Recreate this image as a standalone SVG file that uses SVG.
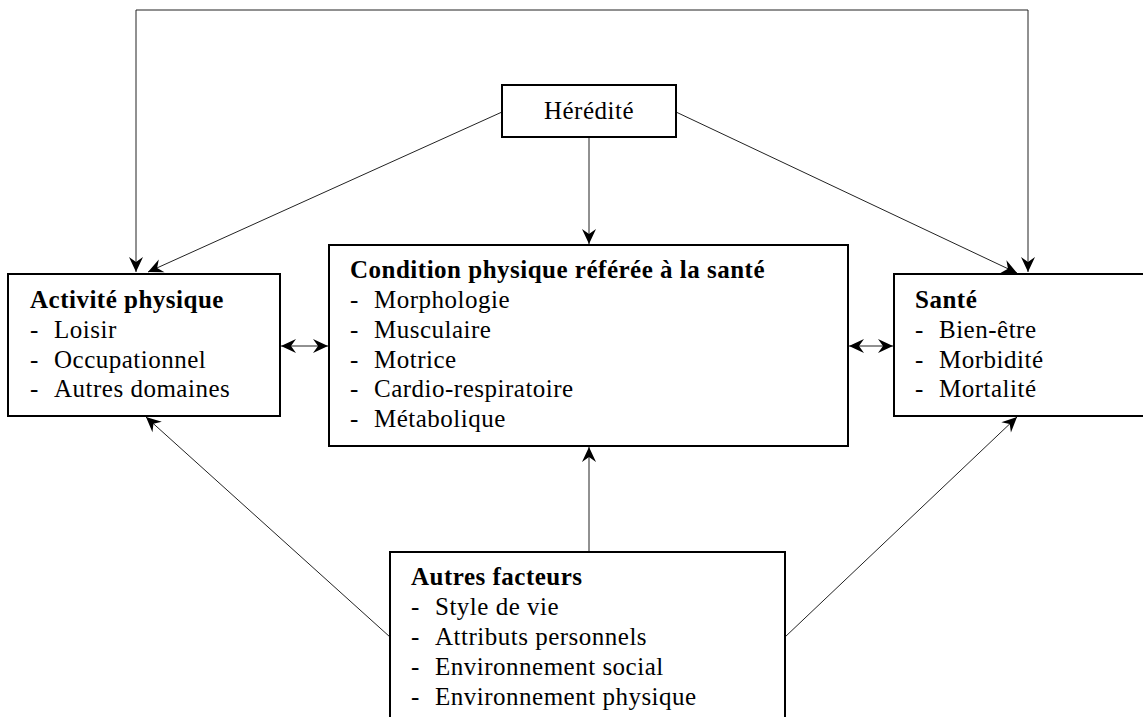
<svg xmlns="http://www.w3.org/2000/svg" width="1143" height="717" viewBox="0 0 1143 717">
<defs>
<style>
.box{fill:#fff;stroke:#000;stroke-width:2}
.t{font-family:"Liberation Serif","Times New Roman",serif;font-size:25px;letter-spacing:0.5px;fill:#000}
.b{font-weight:bold}
.c{fill:none;stroke:#222;stroke-width:1}
</style>
<marker id="ah" markerUnits="userSpaceOnUse" markerWidth="18" markerHeight="16" viewBox="-16 -8 18 16" refX="0" refY="0" orient="auto-start-reverse">
<path d="M0,0 L-15,-7 L-10,0 L-15,7 Z" fill="#000"/>
</marker>
</defs>
<rect width="1143" height="717" fill="#fff"/>
<g id="connectors">
<path class="c" d="M136,272 V10 H1028 V272" marker-start="url(#ah)" marker-end="url(#ah)"/>
<path class="c" d="M502,112 L148,272" marker-end="url(#ah)"/>
<path class="c" d="M589,137 L589,244" marker-end="url(#ah)"/>
<path class="c" d="M676,112 L1017,273" marker-end="url(#ah)"/>
<path class="c" d="M281,346 L328,346" marker-start="url(#ah)" marker-end="url(#ah)"/>
<path class="c" d="M849,346 L893,346" marker-start="url(#ah)" marker-end="url(#ah)"/>
<path class="c" d="M390,637 L146,417" marker-end="url(#ah)"/>
<path class="c" d="M589,551 L589,447" marker-end="url(#ah)"/>
<path class="c" d="M785,637 L1017,417" marker-end="url(#ah)"/>
</g>
<g id="heredite">
<rect class="box" x="502" y="85" width="174" height="52"/>
<text class="t" x="589" y="119" text-anchor="middle">Hérédité</text>
</g>
<g id="activite">
<rect class="box" x="8" y="274" width="272" height="142"/>
<text class="t b" x="30" y="308">Activité physique</text>
<text class="t" x="30" y="338">-</text><text class="t" x="54" y="338">Loisir</text>
<text class="t" x="30" y="368">-</text><text class="t" x="54" y="368">Occupationnel</text>
<text class="t" x="30" y="397">-</text><text class="t" x="54" y="397">Autres domaines</text>
</g>
<g id="condition">
<rect class="box" x="329" y="245" width="519" height="201"/>
<text class="t b" x="350" y="278">Condition physique référée à la santé</text>
<text class="t" x="350" y="308">-</text><text class="t" x="374" y="308">Morphologie</text>
<text class="t" x="350" y="338">-</text><text class="t" x="374" y="338">Musculaire</text>
<text class="t" x="350" y="368">-</text><text class="t" x="374" y="368">Motrice</text>
<text class="t" x="350" y="397">-</text><text class="t" x="374" y="397">Cardio-respiratoire</text>
<text class="t" x="350" y="427">-</text><text class="t" x="374" y="427">Métabolique</text>
</g>
<g id="sante">
<rect class="box" x="894" y="274" width="260" height="142"/>
<text class="t b" x="915" y="308">Santé</text>
<text class="t" x="915" y="338">-</text><text class="t" x="939" y="338">Bien-être</text>
<text class="t" x="915" y="368">-</text><text class="t" x="939" y="368">Morbidité</text>
<text class="t" x="915" y="397">-</text><text class="t" x="939" y="397">Mortalité</text>
</g>
<g id="autres">
<rect class="box" x="390" y="552" width="395" height="200"/>
<text class="t b" x="411" y="585">Autres facteurs</text>
<text class="t" x="411" y="615">-</text><text class="t" x="435" y="615">Style de vie</text>
<text class="t" x="411" y="645">-</text><text class="t" x="435" y="645">Attributs personnels</text>
<text class="t" x="411" y="675">-</text><text class="t" x="435" y="675">Environnement social</text>
<text class="t" x="411" y="705">-</text><text class="t" x="435" y="705">Environnement physique</text>
</g>
</svg>
